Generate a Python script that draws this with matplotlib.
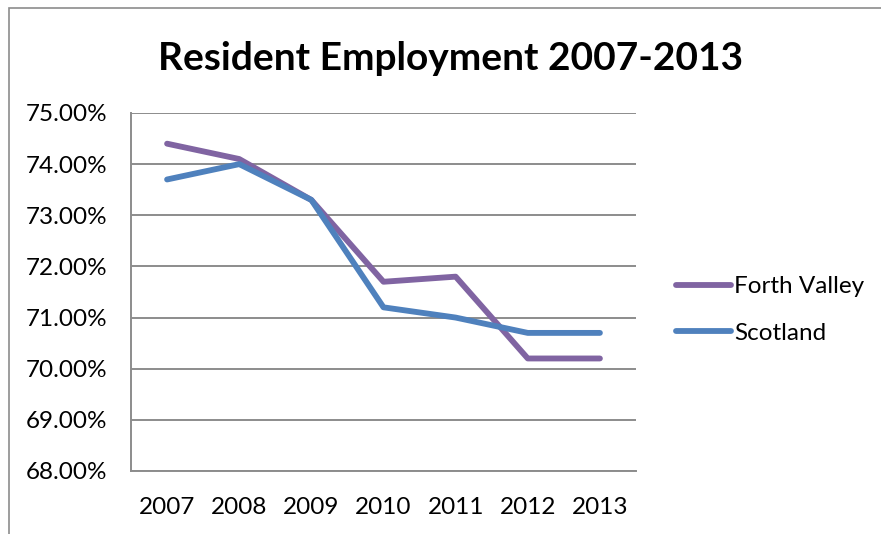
import matplotlib
matplotlib.use('Agg')
import matplotlib.pyplot as plt
from matplotlib.patches import Rectangle
from matplotlib.ticker import FuncFormatter

years = ['2007', '2008', '2009', '2010', '2011', '2012', '2013']
forth_valley = [74.4, 74.1, 73.3, 71.7, 71.8, 70.2, 70.2]
scotland = [73.7, 74.0, 73.3, 71.2, 71.0, 70.7, 70.7]

plt.rcParams['font.family'] = ['Lato', 'DejaVu Sans']

fig = plt.figure(figsize=(8.81, 5.34), dpi=100)
ax = fig.add_axes([0.1487, 0.118, 0.5732, 0.6704])

# chart border, cut off at the right and bottom
fig.patches.append(Rectangle((9 / 881, -0.1), 1.1, 1 - 8 / 534 + 0.1,
                             transform=fig.transFigure, fill=False,
                             edgecolor='#8c8c8c', linewidth=1.2))

x = range(len(years))
ax.plot(x, forth_valley, color='#8064A2', lw=4.2, solid_capstyle='round',
        solid_joinstyle='round', label='Forth Valley', zorder=3)
ax.plot(x, scotland, color='#4F81BD', lw=4.2, solid_capstyle='round',
        solid_joinstyle='round', label='Scotland', zorder=4)

ax.set_xlim(-0.5, len(years) - 0.5)
ax.set_ylim(68, 75)
ax.set_yticks(range(68, 76))
ax.yaxis.set_major_formatter(FuncFormatter(lambda v, p: '%.2f%%' % v))
ax.set_xticks(list(x))
ax.set_xticklabels(years)
ax.grid(axis='y', color='#8c8c8c', lw=1.4)
ax.set_axisbelow(True)
ax.tick_params(length=0, labelsize=17.5)
ax.tick_params(axis='y', pad=17)
ax.tick_params(axis='x', pad=19)
for s in ['top', 'right']:
    ax.spines[s].set_visible(False)
for s in ['left', 'bottom']:
    ax.spines[s].set_color('#8c8c8c')
    ax.spines[s].set_linewidth(1.4)

fig.text(0.511, 0.89, 'Resident Employment 2007-2013', ha='center',
         va='center', fontsize=28, fontweight='bold')

ax.legend(loc='center left', bbox_to_anchor=(676 / 881, 1 - 310 / 534),
          bbox_transform=fig.transFigure, frameon=False, fontsize=17.5,
          handlelength=2.25, handletextpad=0.15, labelspacing=1.05,
          borderaxespad=0, borderpad=0)

fig.savefig('out.png', dpi=100)
